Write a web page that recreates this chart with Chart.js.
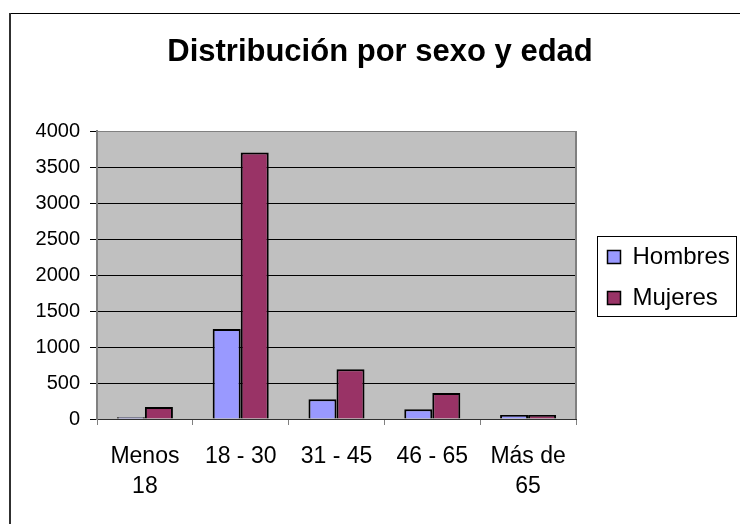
<!DOCTYPE html>
<html>
<head>
<meta charset="utf-8">
<script src="https://cdn.jsdelivr.net/npm/chart.js@4.4.0/dist/chart.umd.min.js"></script>
<style>
  body { margin: 0; background: #fff; }
  #wrap { width: 740px; height: 524px; }
</style>
</head>
<body>
<div id="wrap"><canvas id="chart"></canvas></div>
<script>
const FONT = '"Liberation Sans", Arial, sans-serif';

const categories = [['Menos', '18'], '18 - 30', '31 - 45', '46 - 65', ['Más de', '65']];
const hombres = [25, 1250, 275, 135, 55];
const mujeres = [165, 3700, 690, 360, 55];
const yTicks = [0, 500, 1000, 1500, 2000, 2500, 3000, 3500, 4000];

// white page, grey plot area, outer frame and legend box
const frame = {
  id: 'frame',
  beforeDraw(chart) {
    const { ctx, chartArea: a } = chart;
    ctx.save();
    ctx.fillStyle = '#fff';
    ctx.fillRect(0, 0, chart.width, chart.height);
    ctx.fillStyle = '#c0c0c0';
    ctx.fillRect(a.left, a.top, a.right - a.left, a.bottom - a.top);
    ctx.restore();
  },
  afterDraw(chart) {
    const { ctx, chartArea: a } = chart;
    ctx.save();
    // plot area top / right edges
    ctx.strokeStyle = '#808080';
    ctx.lineWidth = 1;
    ctx.beginPath();
    ctx.moveTo(a.left, a.top + 0.5);
    ctx.lineTo(a.right, a.top + 0.5);
    ctx.stroke();
    ctx.lineWidth = 2;
    ctx.beginPath();
    ctx.moveTo(a.right, a.top);
    ctx.lineTo(a.right, a.bottom);
    ctx.stroke();
    // chart frame
    ctx.strokeStyle = '#000';
    ctx.lineWidth = 1;
    ctx.beginPath();
    ctx.moveTo(10, 13.5);
    ctx.lineTo(chart.width, 13.5);
    ctx.stroke();
    ctx.strokeStyle = '#303030';
    ctx.lineWidth = 2;
    ctx.beginPath();
    ctx.moveTo(10, 13);
    ctx.lineTo(10, chart.height);
    ctx.stroke();

    // legend
    const bx = a.right + 21.5, by = a.top + 105.5, bw = 139, bh = 80;
    ctx.strokeStyle = '#000';
    ctx.lineWidth = 1;
    ctx.strokeRect(bx, by, bw, bh);
    ctx.font = '24px ' + FONT;
    ctx.textBaseline = 'middle';
    chart.data.datasets.forEach((ds, i) => {
      const cy = by + 20 + i * 41;
      ctx.fillStyle = ds.backgroundColor;
      ctx.fillRect(bx + 10, cy - 6, 13, 13);
      ctx.lineWidth = 1.5;
      ctx.strokeRect(bx + 10, cy - 6, 13, 13);
      ctx.fillStyle = '#000';
      ctx.fillText(ds.label, bx + 35, cy + 1);
    });
    ctx.restore();
  }
};

new Chart(document.getElementById('chart'), {
  type: 'bar',
  data: {
    labels: categories,
    datasets: [
      {
        label: 'Hombres',
        data: hombres,
        backgroundColor: '#9999ff',
        borderColor: '#000',
        borderWidth: 2
      },
      {
        label: 'Mujeres',
        data: mujeres,
        backgroundColor: '#993366',
        borderColor: '#000',
        borderWidth: 2
      }
    ]
  },
  options: {
    responsive: true,
    maintainAspectRatio: false,
    animation: false,
    layout: { padding: { left: 20, right: 0, top: 0, bottom: 0 } },
    datasets: { bar: { categoryPercentage: 0.585, barPercentage: 1 } },
    plugins: {
      legend: { display: false },
      tooltip: { enabled: false },
      title: {
        display: true,
        text: 'Distribución por sexo y edad',
        color: '#000',
        font: { family: FONT, size: 31, weight: 'bold', lineHeight: 1.2 },
        padding: { top: 34, bottom: 59.8 }
      }
    },
    scales: {
      x: {
        grid: {
          offset: true,
          drawOnChartArea: false,
          color: '#808080',
          tickLength: 6
        },
        border: { color: '#303030', width: 1 },
        ticks: {
          color: '#000',
          font: { family: FONT, size: 23, lineHeight: 1.3 },
          padding: 17,
          maxRotation: 0,
          autoSkip: false
        },
        afterFit: s => { s.height = 105; }
      },
      y: {
        min: 0,
        max: 4000,
        afterBuildTicks: s => { s.ticks = yTicks.map(v => ({ value: v })); },
        grid: { color: '#000', tickLength: 7 },
        border: { color: '#808080', width: 2 },
        ticks: {
          color: '#000',
          font: { family: FONT, size: 20 },
          padding: 10,
          callback: v => String(v)
        },
        afterFit: s => { s.width = 77; }
      },
      y2: {
        position: 'right',
        display: true,
        grid: { display: false },
        border: { display: false },
        ticks: { display: false },
        afterFit: s => { s.width = 164; }
      }
    }
  },
  plugins: [frame]
});
</script>
</body>
</html>
